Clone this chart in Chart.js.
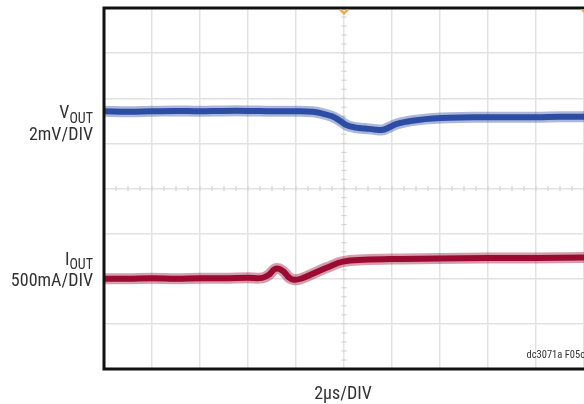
<!DOCTYPE html>
<html>
<head>
<meta charset="utf-8">
<script src="https://cdn.jsdelivr.net/npm/chart.js@4/dist/chart.umd.min.js"></script>
<style>
  html, body { margin: 0; padding: 0; background: #ffffff; }
  #wrap { width: 584px; height: 404px; position: relative; }
</style>
</head>
<body>
<div id="wrap"><canvas id="c" width="584" height="404"></canvas></div>
<script>
// ---- Data (x in divisions 0..10, 2µs/DIV; y in divisions 0..8) ----
const voutX = [0, 0.5, 1, 1.5, 2, 2.5, 3, 3.5, 4, 4.35, 4.55, 4.75, 4.92, 5.06, 5.25, 5.44, 5.62, 5.81, 5.95, 6.1, 6.3, 6.55, 6.85, 7.2, 7.7, 8.3, 9, 9.5, 10];
const voutY = [5.71, 5.70, 5.71, 5.72, 5.71, 5.72, 5.72, 5.71, 5.71, 5.70, 5.66, 5.60, 5.50, 5.40, 5.35, 5.33, 5.31, 5.30, 5.36, 5.43, 5.48, 5.52, 5.55, 5.57, 5.58, 5.58, 5.58, 5.59, 5.59];
const ioutX = [0, 0.5, 1, 1.5, 2, 2.5, 3, 3.3, 3.45, 3.55, 3.65, 3.75, 3.85, 3.95, 4.1, 4.35, 4.65, 4.98, 5.4, 6.2, 7.0, 8.0, 9.0, 10];
const ioutY = [2.00, 2.00, 2.01, 2.00, 2.01, 2.01, 2.02, 2.02, 2.10, 2.21, 2.22, 2.15, 2.03, 1.98, 2.00, 2.11, 2.25, 2.38, 2.42, 2.44, 2.45, 2.46, 2.46, 2.47];
const xTicks = [0, 1, 2, 3, 4, 5, 6, 7, 8, 9, 10];
const yTicks = [0, 1, 2, 3, 4, 5, 6, 7, 8];

const FONT = '"Liberation Sans Narrow", "Roboto Condensed", "Arial Narrow", "Liberation Sans", sans-serif';
const BLUE = '#2e4ea5';
const RED = '#9b0a31';

function pts(xs, ys) { return xs.map((x, i) => ({ x: x, y: ys[i] })); }

const decor = {
  id: 'decor',
  beforeDatasetsDraw(chart) {
    const { ctx, scales: { x, y } } = chart;
    ctx.save();
    ctx.strokeStyle = '#d4d4d4';
    ctx.lineWidth = 1.2;
    const cx = x.getPixelForValue(5);
    for (let v = 0; v <= 8.0001; v += 0.2) {
      const py = y.getPixelForValue(v);
      ctx.beginPath(); ctx.moveTo(cx - 2.5, py); ctx.lineTo(cx + 2.5, py); ctx.stroke();
    }
    const cy = y.getPixelForValue(4);
    for (let v = 0; v <= 10.0001; v += 0.25) {
      const px = x.getPixelForValue(v);
      ctx.beginPath(); ctx.moveTo(px, cy - 2.5); ctx.lineTo(px, cy + 2.5); ctx.stroke();
    }
    ctx.restore();
  },
  afterDraw(chart) {
    const { ctx, chartArea: a, scales: { x } } = chart;
    ctx.save();
    ctx.strokeStyle = '#111';
    ctx.lineWidth = 3;
    ctx.beginPath();
    ctx.moveTo(584, a.top);
    ctx.lineTo(a.left, a.top);
    ctx.lineTo(a.left, a.bottom);
    ctx.lineTo(584, a.bottom);
    ctx.stroke();
    ctx.strokeStyle = '#f2a23a';
    ctx.lineWidth = 2;
    const tx = x.getPixelForValue(5);
    ctx.beginPath(); ctx.moveTo(tx - 4, a.top + 1.5); ctx.lineTo(tx, a.top + 5.5); ctx.lineTo(tx + 4, a.top + 1.5); ctx.stroke();
    ctx.fillStyle = '#f2a23a';
    ctx.beginPath(); ctx.moveTo(584, a.top + 1); ctx.lineTo(580, a.top + 1); ctx.lineTo(584, a.top + 5); ctx.closePath(); ctx.fill();

    ctx.fillStyle = '#333';
    ctx.textBaseline = 'alphabetic';
    function sub(main, s, right, base, subDrop) {
      ctx.font = '14px ' + FONT;
      const ws = ctx.measureText(s).width;
      ctx.textAlign = 'left';
      ctx.fillText(s, right - ws, base + subDrop);
      ctx.font = '18px ' + FONT;
      ctx.textAlign = 'right';
      ctx.fillText(main, right - ws, base);
    }
    sub('V', 'OUT', 93, 118, 5);
    ctx.font = '18px ' + FONT; ctx.textAlign = 'right';
    ctx.fillText('2mV/DIV', 93, 140);
    sub('I', 'OUT', 93, 265, 4);
    ctx.font = '18px ' + FONT; ctx.textAlign = 'right';
    ctx.fillText('500mA/DIV', 93, 286);
    ctx.textAlign = 'center';
    ctx.fillText('2\u00b5s/DIV', 343, 399);
    ctx.font = '10.5px ' + FONT; ctx.textAlign = 'right';
    ctx.fillText('dc3071a F05c', 585, 358);
    ctx.restore();
  }
};

new Chart(document.getElementById('c'), {
  type: 'scatter',
  data: {
    datasets: [
      { data: pts(voutX, voutY), showLine: true, borderColor: 'rgba(46,78,165,0.4)', borderWidth: 11, pointRadius: 0, tension: 0.4 },
      { data: pts(voutX, voutY), showLine: true, borderColor: BLUE, borderWidth: 6, pointRadius: 0, tension: 0.4 },
      { data: pts(ioutX, ioutY), showLine: true, borderColor: 'rgba(155,10,49,0.4)', borderWidth: 11, pointRadius: 0, tension: 0.4 },
      { data: pts(ioutX, ioutY), showLine: true, borderColor: RED, borderWidth: 6, pointRadius: 0, tension: 0.4 }
    ]
  },
  options: {
    responsive: false,
    animation: false,
    devicePixelRatio: 1,
    layout: { padding: { left: 104, top: 8, right: 0, bottom: 35 } },
    plugins: { legend: { display: false }, tooltip: { enabled: false } },
    scales: {
      x: {
        type: 'linear', min: 0, max: 10,
        afterBuildTicks: s => { s.ticks = xTicks.map(v => ({ value: v })); },
        afterFit: s => { s.height = 0; },
        ticks: { display: false },
        grid: { color: '#e2e2e2', lineWidth: 1.5, drawTicks: false },
        border: { display: false }
      },
      y: {
        type: 'linear', min: 0, max: 8,
        afterBuildTicks: s => { s.ticks = yTicks.map(v => ({ value: v })); },
        afterFit: s => { s.width = 0; },
        ticks: { display: false },
        grid: { color: '#e2e2e2', lineWidth: 1.5, drawTicks: false },
        border: { display: false }
      }
    }
  },
  plugins: [decor]
});
</script>
</body>
</html>
